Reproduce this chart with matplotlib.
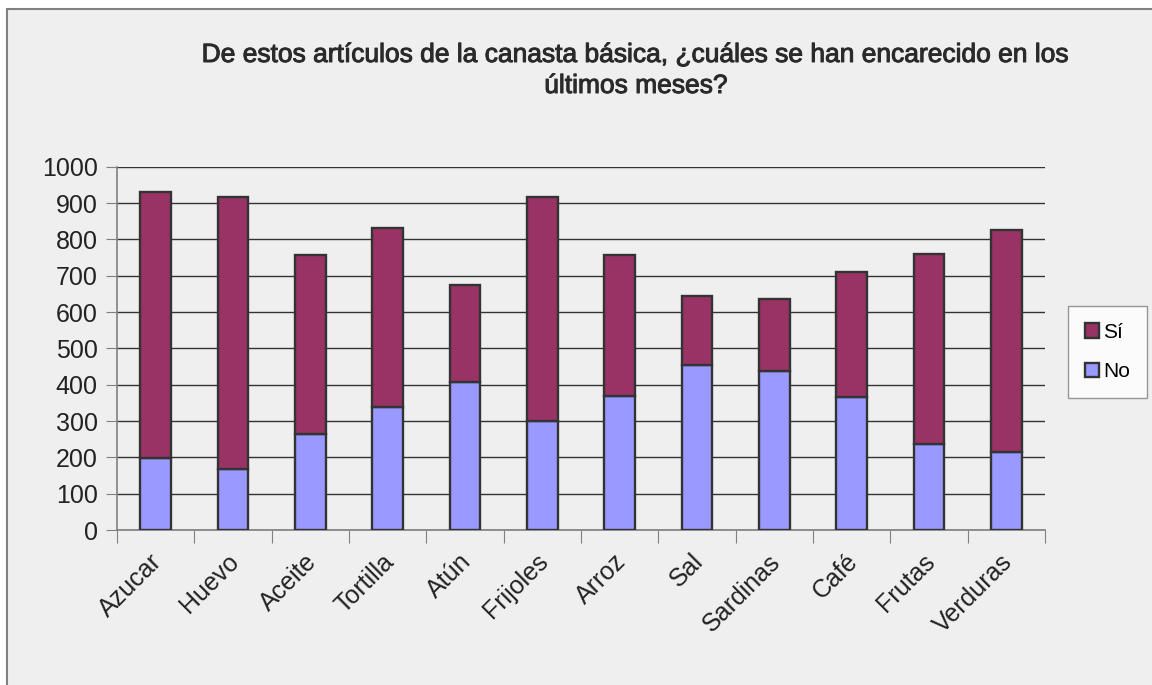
import numpy as np
import matplotlib.pyplot as plt
import matplotlib.transforms as mtransforms
import matplotlib.patheffects as pe
from matplotlib.patches import Rectangle

plt.rcParams['font.family'] = ['Liberation Sans', 'DejaVu Sans']

categorias = ['Azucar', 'Huevo', 'Aceite', 'Tortilla', 'Atún', 'Frijoles',
              'Arroz', 'Sal', 'Sardinas', 'Café', 'Frutas', 'Verduras']
no_vals = [198, 168, 265, 338, 407, 299, 370, 453, 438, 366, 236, 215]
totales = [931, 917, 756, 830, 674, 917, 757, 644, 637, 711, 759, 825]
si_vals = [t - n for t, n in zip(totales, no_vals)]

titulo = ['De estos artículos de la canasta básica, ¿cuáles se han encarecido en los',
          'últimos meses?']

W, H = 1152, 685
fig = plt.figure(figsize=(W / 100, H / 100), dpi=100)
fig.patch.set_facecolor('white')

# chart area frame (only left/top edge visible)
marco = Rectangle((7 / W, -0.1), 1.2, (H - 9) / H + 0.1,
                  transform=fig.transFigure, facecolor='#EFEFEF',
                  edgecolor='#808080', linewidth=1.5, zorder=-10)
fig.add_artist(marco)

ax = fig.add_axes([117 / W, (H - 530) / H, (1045 - 117) / W, (530 - 166.7) / H])
ax.set_facecolor('#EFEFEF')

x = np.arange(len(categorias))
ax.bar(x, no_vals, width=0.4, color='#9999FF', edgecolor='#333333',
       linewidth=1.7, label='No', zorder=3)
ax.bar(x, si_vals, width=0.4, bottom=no_vals, color='#993366',
       edgecolor='#333333', linewidth=1.7, label='Sí', zorder=3)

ax.set_xlim(-0.5, len(categorias) - 0.5)
ax.set_ylim(0, 1000)
ax.set_yticks(range(0, 1001, 100))
ax.tick_params(axis='y', labelsize=18, length=8, color='#808080',
               labelcolor='#222222', pad=6)

ax.set_xticks(np.arange(-0.5, len(categorias), 1.0), minor=False)
ax.set_xticklabels([])
ax.set_xticks(x, minor=True)
ax.set_xticklabels(categorias, minor=True, rotation=45, ha='right',
                   va='top', rotation_mode='anchor', fontsize=18,
                   color='#222222')
ax.tick_params(axis='x', which='major', length=9, color='#808080')
ax.tick_params(axis='x', which='minor', length=0, pad=14)
desplaza = mtransforms.ScaledTranslation(-6 / 100, 0, fig.dpi_scale_trans)
for lbl in ax.get_xticklabels(minor=True):
    lbl.set_transform(lbl.get_transform() + desplaza)

ax.yaxis.grid(True, color='#333333', linewidth=1.0, zorder=0)
ax.set_axisbelow(True)
for side in ['top', 'right']:
    ax.spines[side].set_visible(False)
for side in ['left', 'bottom']:
    ax.spines[side].set_color('#808080')
    ax.spines[side].set_linewidth(1.2)

for linea, yb in zip(titulo, [62, 93]):
    fig.text(636 / W, 1 - yb / H, linea, ha='center', va='baseline',
             fontsize=19, color='#2a2a2a',
             path_effects=[pe.withStroke(linewidth=0.7, foreground='#2a2a2a')])

handles, labels = ax.get_legend_handles_labels()
leg = fig.legend(handles[::-1], labels[::-1], loc='upper left',
                 bbox_to_anchor=(1068 / W, 1 - 306 / H), fontsize=15,
                 frameon=True, fancybox=False, edgecolor='#808080',
                 facecolor='white', handlelength=0.7, handleheight=0.7,
                 handletextpad=0.2, labelspacing=1.0, borderpad=0.8,
                 borderaxespad=0)
leg.get_frame().set_linewidth(1.0)

fig.savefig('out.png', dpi=100, facecolor=fig.get_facecolor())
